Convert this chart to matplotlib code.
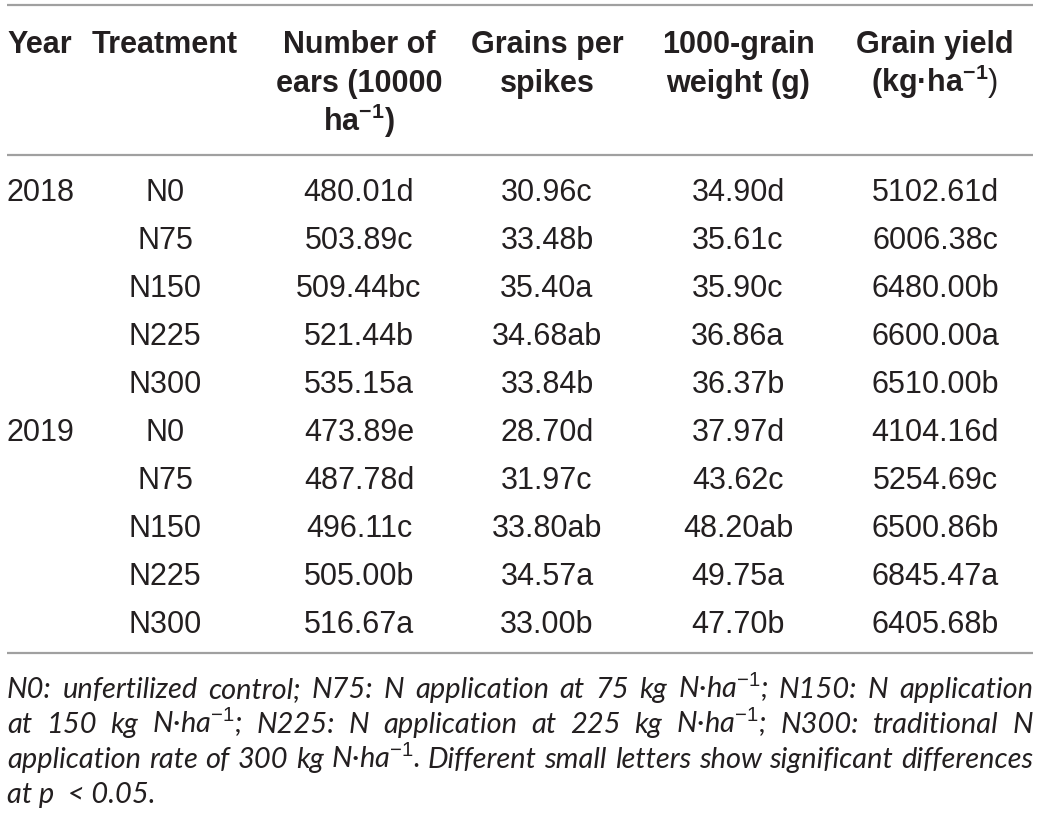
import matplotlib
matplotlib.use("Agg")
import matplotlib.pyplot as plt
from matplotlib import font_manager

# ---------------- data ----------------
years = ["2018", "", "", "", "", "2019", "", "", "", ""]
treatments = ["N0", "N75", "N150", "N225", "N300", "N0", "N75", "N150", "N225", "N300"]
ears = ["480.01d", "503.89c", "509.44bc", "521.44b", "535.15a",
        "473.89e", "487.78d", "496.11c", "505.00b", "516.67a"]
grains = ["30.96c", "33.48b", "35.40a", "34.68ab", "33.84b",
          "28.70d", "31.97c", "33.80ab", "34.57a", "33.00b"]
weight = ["34.90d", "35.61c", "35.90c", "36.86a", "36.37b",
          "37.97d", "43.62c", "48.20ab", "49.75a", "47.70b"]
yields = ["5102.61d", "6006.38c", "6480.00b", "6600.00a", "6510.00b",
          "4104.16d", "5254.69c", "6500.86b", "6845.47a", "6405.68b"]

headers = [
    ["Year"],
    ["Treatment"],
    ["Number of", "ears (10000", r"ha$^{\mathbf{-1}}$)"],
    ["Grains per", "spikes"],
    ["1000-grain", "weight (g)"],
    ["Grain yield", r"(kg·ha$^{\mathbf{-1}}$$\mathrm{)}$"],
]
footnote_lines = [
    r"N0: unfertilized control; N75: N application at 75 kg N·ha$^{-1}$; N150: N application",
    r"at 150 kg N·ha$^{-1}$; N225: N application at 225 kg N·ha$^{-1}$; N300: traditional N",
    r"application rate of 300 kg N·ha$^{-1}$. Different small letters show significant differences",
    r"at p  < 0.05.",
]

# ---------------- style ----------------
names = {f.name for f in font_manager.fontManager.ttflist}
BODY = "Liberation Sans" if "Liberation Sans" in names else "DejaVu Sans"
plt.rcParams["mathtext.fontset"] = "custom"
plt.rcParams["mathtext.rm"] = BODY
plt.rcParams["mathtext.bf"] = BODY + ":bold"
plt.rcParams["mathtext.it"] = BODY + ":italic"

TXT = "#231f20"
LINE = "#a0a0a0"
FS = 22

W, H = 1040, 819
fig = plt.figure(figsize=(W / 100, H / 100), dpi=100)
ax = fig.add_axes([0, 0, 1, 1])
ax.set_xlim(0, W)
ax.set_ylim(H, 0)
ax.axis("off")

# rules
for y in (5, 155, 653):
    ax.plot([7, 1033], [y, y], color=LINE, lw=1.6, solid_capstyle="butt")

# columns: (x, ha)
cols = [(7, "left"), (165, "center"), (359, "center"), (547, "center"), (738, "center"), (935, "center")]

# headers
hdr_base = [53, 92, 131]
for (x, ha), lines in zip(cols, headers):
    for i, s in enumerate(lines):
        ax.text(x, hdr_base[i], s, ha=ha, va="baseline", fontsize=FS,
                fontweight="bold", family=BODY, color=TXT)

# body
row0, dy = 201, 48.0
table = [years, treatments, ears, grains, weight, yields]
for (x, ha), col in zip(cols, table):
    for r, s in enumerate(col):
        if s:
            ax.text(x, row0 + r * dy, s, ha=ha, va="baseline", fontsize=FS,
                    family=BODY, color=TXT)

# footnote (justified)
renderer = fig.canvas.get_renderer()
left, right = 7, 1033
width_avail = right - left


def text_w(s, fs, fam):
    t = ax.text(0, 0, s, fontsize=fs, family=fam, style="italic")
    w = t.get_window_extent(renderer).width
    t.remove()
    return w


# choose the installed sans family that allows the largest footnote size
best = None
for fam in ["Liberation Sans", "Roboto", "Lato", "Noto Sans", "Open Sans", "Inter"]:
    if fam not in names:
        continue
    nat = max(text_w(l, 21, fam) for l in footnote_lines[:-1])
    fs = min(21.0, 21.0 * width_avail * 0.99 / nat)
    if best is None or fs > best[1] + 0.3:
        best = (fam, fs)
FOOT, ffs = best if best else (BODY, 18)

foot_base = [698, 733, 768, 803]
for i, line in enumerate(footnote_lines):
    y = foot_base[i]
    if i == len(footnote_lines) - 1:
        ax.text(left, y, line, ha="left", va="baseline", fontsize=ffs,
                family=FOOT, style="italic", color=TXT)
        continue
    words = line.split(" ")
    ws = [text_w(w, ffs, FOOT) for w in words]
    gap = (width_avail - sum(ws)) / (len(words) - 1)
    x = left
    for w, wd in zip(words, ws):
        ax.text(x, y, w, ha="left", va="baseline", fontsize=ffs,
                family=FOOT, style="italic", color=TXT)
        x += wd + gap

fig.savefig("out.png", dpi=100, facecolor="white")
